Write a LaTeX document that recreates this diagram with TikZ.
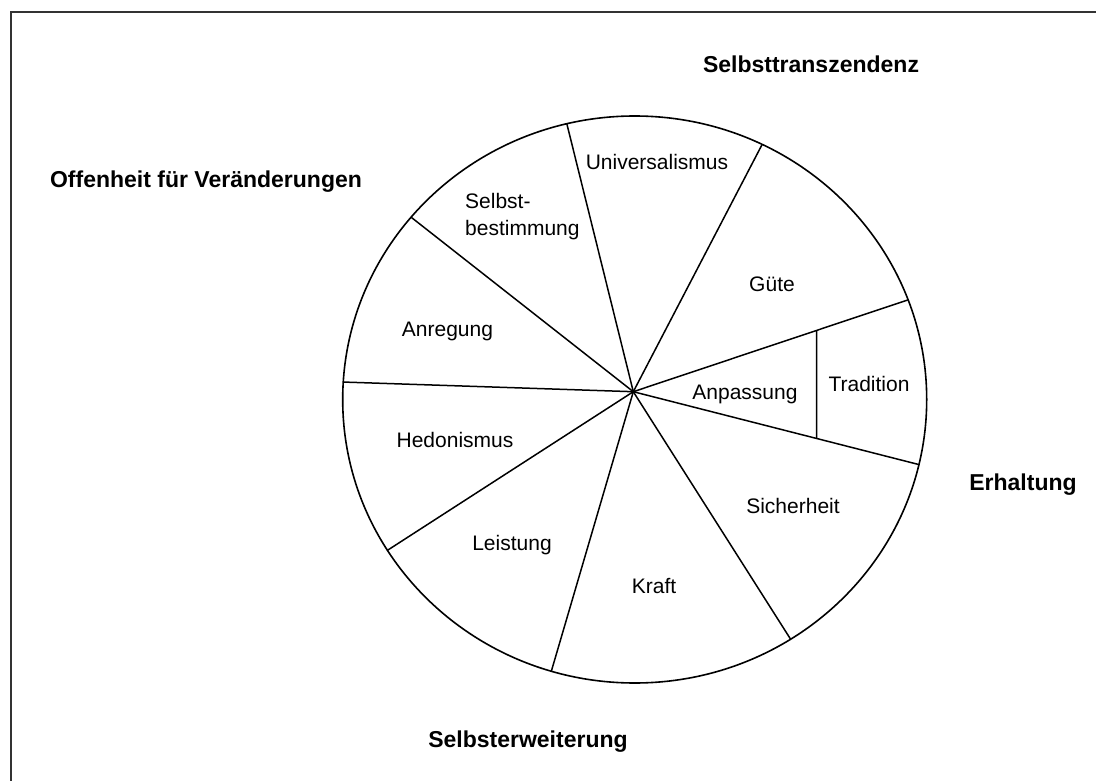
\documentclass[tikz,border=0pt]{standalone}
\usepackage{fontspec}
\setmainfont{Liberation Sans}
\usetikzlibrary{calc}
\tikzset{
  seg/.style={line width=1.5pt, black},
  rim/.style={line width=1.6pt, black},
  frame/.style={line width=2pt, black!80},
  lbl/.style={inner sep=0pt, font=\fontsize{21}{27}\selectfont},
  grp/.style={inner sep=0pt, font=\fontsize{23}{27}\selectfont\bfseries},
}
\begin{document}
\begin{tikzpicture}[x=1pt,y=-1pt]
\useasboundingbox (0,0) rectangle (1096,781);
\draw[frame] (10.5,790) -- (10.5,12) -- (1100,12);

\coordinate (C) at (634.7,399.5);
\coordinate (H) at (633.3,391.7);
\draw[rim] (C) ellipse [x radius=292, y radius=283.5];

\foreach \n/\t in {p1/-103.44, p2/-64.12, p3/-20.58, p4/13.27, p5/57.73, p6/106.59, p7/147.86, p8/183.53, p9/-139.98}{
  \coordinate (\n) at ($(C)+({292*cos(\t)},{283.5*sin(\t)})$);
}
\foreach \n in {p1,p2,p3,p4,p5,p6,p7,p8,p9}{
  \draw[seg] (H) -- (\n);
}
\coordinate (vt) at (816.7,0);
\coordinate (vb) at (816.7,800);
\coordinate (q3) at (intersection of H--p3 and vt--vb);
\coordinate (q4) at (intersection of H--p4 and vt--vb);
\draw[seg] (q3) -- (q4);

\node[lbl] (univ) at (657,162) {Universalismus};
\node[lbl, align=left, anchor=west] (selbst) at (465,217) {Selbst-\\bestimmung};
\node[lbl] (guete) at (772,284) {Güte};
\node[lbl] (anp) at (745,394) {Anpassung};
\node[lbl] (trad) at (869,384) {Tradition};
\node[lbl] (sich) at (793,506) {Sicherheit};
\node[lbl] (kraft) at (654,586) {Kraft};
\node[lbl] (leist) at (512,545) {Leistung};
\node[lbl] (hedo) at (455,440) {Hedonismus};
\node[lbl] (anr) at (447.5,331) {Anregung};

\node[grp] (st) at (811,64) {Selbsttranszendenz};
\node[grp] (off) at (206,182) {Offenheit für Veränderungen};
\node[grp] (erh) at (1023,485) {Erhaltung};
\node[grp] (sew) at (528,742) {Selbsterweiterung};
\end{tikzpicture}
\end{document}
